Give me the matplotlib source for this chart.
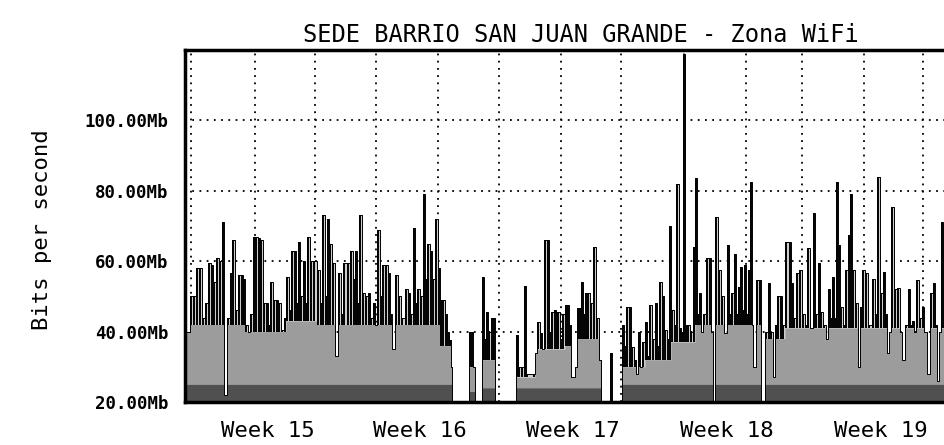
import numpy as np
import matplotlib.pyplot as plt

# RRD columns (one per pixel column of the graph) and traffic peaks in Mb/s
col = np.array([
    1, 5, 8, 11, 14, 17, 20, 23, 26, 28, 31, 34, 37, 39, 42, 45, 47, 50, 53, 56,
    58, 60, 63, 65, 68, 70, 73, 75, 78, 81, 83, 85, 88, 91, 93, 96, 99, 101, 104, 106,
    109, 111, 113, 115, 118, 120, 122, 125, 128,
    132, 135, 137, 140, 142, 144, 147, 150, 153, 156, 158, 162, 165, 168, 170, 172,
    174, 177, 180, 183, 185, 188, 190, 192, 195, 197, 200, 203, 205, 207, 210, 213,
    216, 220, 223, 225, 228, 230, 232, 235, 238, 240, 242, 245, 247, 250, 253,
    255, 257, 260, 262, 264, 266, 267, 284, 286, 288, 290, 297, 299, 301, 303, 306,
    308, 310, 331, 333, 336, 339, 341, 348, 350, 352, 355, 357, 359, 362, 364, 366,
    369, 371, 372, 375, 377, 380,
    382, 384, 386, 390, 392, 394, 396, 398, 400, 402, 405, 408, 411, 414, 416, 425,
    427, 437, 439, 441, 444, 446, 449, 451, 453, 455, 457, 460, 462, 464, 467, 470,
    472, 474, 477, 479, 482, 484, 486, 489, 491, 494, 496, 498, 500, 502, 505, 508,
    510, 512, 514, 516, 518, 521, 524, 526, 528, 530, 533, 536, 539, 542, 544, 546,
    549, 551, 553, 555, 557, 559, 561, 563, 565, 567, 568, 571, 574, 576, 580, 583,
    585, 588, 590, 592, 595, 597, 600, 604, 606, 608, 611, 614, 617, 620, 622, 625,
    628, 630, 633,
    635, 638, 641, 643, 645, 647, 649, 651, 653, 655, 658, 660, 663, 665, 667, 670,
    673, 675, 677, 680, 683, 687, 690, 692, 695, 698, 700, 702, 704, 706, 709, 712,
    715, 717, 720, 723, 725, 727, 729, 731, 734, 737, 739, 742, 745, 748, 750, 752,
    754, 756, 758, 760,
])
mb = np.array([
    40, 50, 50, 58, 58, 44, 48, 59.5, 59, 54, 61, 60, 71, 22, 44, 56.6, 66, 46, 56, 56,
    55, 42, 40, 45, 67, 67, 66.5, 66, 48, 48, 42, 54, 49, 49, 48, 40.5, 44, 55.5, 46, 63,
    63, 48, 65.5, 50, 60, 48, 67, 60, 60,
    57.5, 48, 73, 50, 72, 65, 59.5, 33, 56.6, 45, 59.5, 59.5, 63, 55, 63, 48,
    73, 51, 50, 51, 44, 48, 42, 69, 50, 59, 59, 56.6, 45, 35, 56, 50,
    44, 52, 51, 45, 69.5, 48, 52, 50, 79, 55, 65, 63, 55, 72, 58,
    49, 49, 45, 40, 37.6, 30, 20, 40, 40, 30, 20, 55.6, 38, 45.6, 40, 44,
    44, 20, 39, 30, 30, 53, 28, 28, 34, 42.8, 39.6, 35, 66, 66, 40, 45.6,
    46, 40, 45.6, 38, 45, 47.5,
    47.5, 42, 27, 30, 46.7, 46.7, 54, 45, 51, 51, 48, 64, 44, 32, 20, 34,
    20, 42, 36, 47, 47, 35.6, 32, 28, 40, 30, 37, 42.8, 33, 47.5, 38, 48,
    36, 54, 50, 40.5, 38, 70, 46, 42, 82, 41, 40, 119, 42, 42, 40, 64,
    83.6, 45, 51, 40, 45, 61, 61, 40, 20, 72.5, 57.5, 50, 39.6, 64.6, 45, 51,
    62, 45, 52.8, 58.4, 46, 59, 45, 57.5, 82.5, 42, 30, 54.6, 54.6, 20, 40, 53.8,
    40, 27, 42, 50, 50, 42, 65.5, 65.5, 53.8, 44, 56.6, 57.5, 45, 42, 63.7, 41,
    73.6, 45, 59.5,
    45.6, 42, 38, 52, 44, 55.6, 44, 82.5, 64.6, 47, 42, 57.5, 67.4, 79, 57.5, 48,
    30, 47, 57.5, 56.6, 42, 55, 45, 84, 51, 57, 45, 34, 40, 75.4, 52, 52.4,
    40, 32, 42, 52, 42, 43, 40, 54.6, 44, 47, 40, 28, 51, 53.8, 42, 26,
    40, 71, 52, 52,
])

# dense (average) traffic band and dark low band
base_col = np.array([0, 60, 100, 130, 200, 255, 267, 284, 290, 297, 310, 331, 350, 380,
                     392, 416, 437, 460, 485, 510, 575, 600, 760])
base_mb = np.array([42, 40, 43, 42, 42, 36, 20, 30, 20, 32, 20, 27, 35, 36,
                    38, 20, 30, 32, 37, 42, 38, 41, 41])
low_col = np.array([0, 267, 284, 290, 297, 310, 331, 416, 437, 760])
low_mb = np.array([25, 20, 23, 20, 24, 20, 24, 20, 25, 25])

grid_cols = [6, 70, 130, 191, 253, 314, 376, 436, 499, 561, 617, 679, 738]
y_ticks = [20, 40, 60, 80, 100]
week_cols = [83, 235, 388, 542, 696]
week_labels = ["Week 15", "Week 16", "Week 17", "Week 18", "Week 19"]

mono = "DejaVu Sans Mono"

fig = plt.figure(figsize=(9.45, 4.45), dpi=100)
ax = fig.add_axes([185 / 945, 43 / 445, 760 / 945, 352 / 445])


def layer(cols, vals):
    idx = np.searchsorted(cols, col, side="right") - 1
    return np.minimum(vals[idx], mb)


base = layer(base_col, base_mb)
low = layer(low_col, low_mb)

ax.fill_between(col, 20, mb, step="post", color="#cdcdcd", lw=0, zorder=2)
ax.fill_between(col, 20, base, step="post", color="#9c9c9c", lw=0, zorder=2)
ax.fill_between(col, 20, low, step="post", color="#505050", lw=0, zorder=2)
ax.vlines(col + 0.6, base, mb, color="black", lw=1.4, zorder=3)
ax.step(col, mb, where="post", color="black", lw=0.7, zorder=3)

# dotted grid
for gx in grid_cols:
    ax.axvline(gx, color="black", lw=1.3, ls=(0, (1, 3)), zorder=1)
for gy in y_ticks[1:]:
    ax.axhline(gy, color="black", lw=1.3, ls=(0, (1, 3)), zorder=1)

ax.set_xlim(0, 760)
ax.set_ylim(20, 120)
ax.set_yticks(y_ticks)
ax.set_yticklabels([f"{v:.2f}Mb" for v in y_ticks], fontsize=12.5, family=mono,
                   weight="bold")
ax.set_xticks(week_cols)
ax.set_xticklabels(week_labels, fontsize=16, family=mono)
ax.tick_params(axis="y", length=0, pad=12)
ax.tick_params(axis="x", length=0, pad=14)

for s in ["left", "top", "bottom"]:
    ax.spines[s].set_linewidth(2.5)
ax.spines["right"].set_visible(False)

fig.text(581 / 945, 1 - 35 / 445, "SEDE BARRIO SAN JUAN GRANDE - Zona WiFi",
         ha="center", va="center", fontsize=17, family=mono)
fig.text(42 / 945, 1 - 230 / 445, "Bits per second", rotation=90,
         ha="center", va="center", fontsize=16, family=mono)

fig.savefig("out.png", dpi=100)
